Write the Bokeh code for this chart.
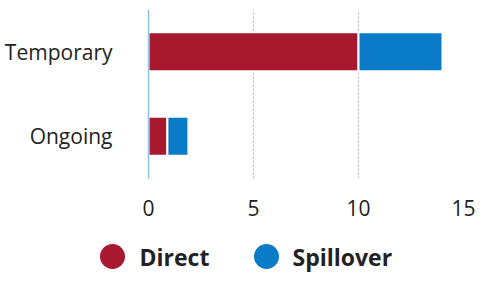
from bokeh.plotting import figure
from bokeh.models import FactorRange, Range1d, FixedTicker, ColumnDataSource
from bokeh.layouts import column
from bokeh.core.properties import value
from bokeh.embed import file_html
from bokeh.resources import INLINE

# ---- data ----
categories = ["Ongoing", "Temporary"]
direct = [0.9, 10.0]
spillover = [1.0, 4.0]
series_names = ["Direct", "Spillover"]
x_ticks = [0, 5, 10, 15]

RED = "#A8182F"
BLUE = "#0A7BC6"
FONT = "Open Sans"

src = ColumnDataSource(dict(cat=categories, Direct=direct, Spillover=spillover))

p = figure(width=475, height=221, output_backend="svg", toolbar_location=None,
           y_range=FactorRange(factors=categories, range_padding=0),
           x_range=Range1d(0, 15),
           min_border_left=148, min_border_right=12, min_border_top=9, min_border_bottom=43)
p.outline_line_color = None
p.frame_align = False

p.hbar_stack(series_names, y="cat", height=0.46, color=[RED, BLUE], source=src,
             line_color="white", line_width=2)

# x axis
p.xaxis.ticker = FixedTicker(ticks=x_ticks)
p.xaxis.axis_line_color = None
p.xaxis.major_tick_line_color = None
p.xaxis.minor_tick_line_color = None
p.xaxis.major_label_text_font = FONT
p.xaxis.major_label_text_font_size = "21px"
p.xaxis.major_label_text_color = "#222222"
p.xaxis.major_label_standoff = 15

# y axis
p.yaxis.axis_line_color = "#8CC0E4"
p.yaxis.axis_line_width = 1.5
p.yaxis.major_tick_line_color = None
p.yaxis.minor_tick_line_color = None
p.yaxis.major_label_text_font = FONT
p.yaxis.major_label_text_font_size = "21px"
p.yaxis.major_label_text_color = "#222222"
p.yaxis.major_label_standoff = 30

p.xgrid.ticker = FixedTicker(ticks=x_ticks[1:])
p.xgrid.grid_line_color = "#b5b5b5"
p.xgrid.grid_line_dash = "2 2"
p.ygrid.grid_line_color = None

# ---- legend as a small figure (frame spans the whole canvas) ----
LW, LH = 475, 52
lg = figure(width=LW, height=LH, output_backend="svg", toolbar_location=None,
            x_range=Range1d(0, LW), y_range=Range1d(0, LH),
            x_axis_type=None, y_axis_type=None,
            min_border_left=0, min_border_right=0, min_border_top=0, min_border_bottom=0)
lg.outline_line_color = None
lg.grid.visible = False
lg.frame_align = False
leg_src = ColumnDataSource(dict(name=series_names, cx=[112, 266], tx=[139, 292],
                                y=[17, 17], col=[RED, BLUE]))
lg.scatter(x="cx", y="y", size=25, fill_color="col", line_color=None, source=leg_src)
lg.text(x="tx", y="y", text="name", source=leg_src, text_font=value(FONT),
        text_font_size="23px", text_font_style="bold", text_color="#222222",
        text_baseline="middle", text_align="left")

layout = column(p, lg, spacing=0)
open("out.html", "w").write(file_html(layout, INLINE))
